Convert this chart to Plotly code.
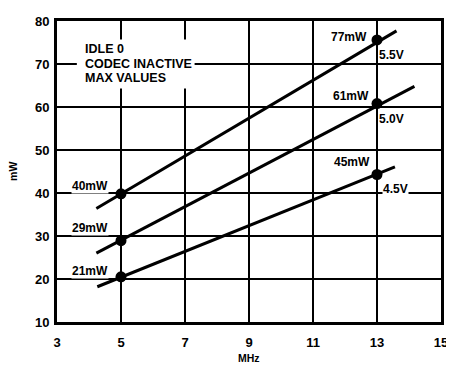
import plotly.graph_objects as go

# ---- data ----
voltages = ["5.5V", "5.0V", "4.5V"]
line_x_start = [4.23, 4.23, 4.26]
line_y_start = [36.4, 26.0, 18.2]
line_x_end = [13.61, 14.17, 13.56]
line_y_end = [77.7, 64.8, 46.1]

dot_x_low = 5
dot_x_high = 13
dot_y_low = [39.8, 28.9, 20.5]
dot_y_high = [75.6, 60.8, 44.3]
label_low = ["40mW", "29mW", "21mW"]
label_high = ["77mW", "61mW", "45mW"]

x_ticks = [3, 5, 7, 9, 11, 13, 15]
y_ticks = [10, 20, 30, 40, 50, 60, 70, 80]
note_lines = ["IDLE 0", "CODEC INACTIVE", "MAX VALUES"]

FONT = "Liberation Sans, Arial, sans-serif"

fig = go.Figure()
for i, v in enumerate(voltages):
    fig.add_trace(go.Scatter(
        x=[line_x_start[i], line_x_end[i]],
        y=[line_y_start[i], line_y_end[i]],
        mode="lines", line=dict(color="black", width=3),
        showlegend=False, hoverinfo="skip"))
    fig.add_trace(go.Scatter(
        x=[dot_x_low, dot_x_high],
        y=[dot_y_low[i], dot_y_high[i]],
        mode="markers", marker=dict(color="black", size=11),
        showlegend=False))

ann = []
lbl_font = dict(family=FONT, size=12, color="black", weight="bold")
low_shift = [7.4, 12.3, 6.0]
high_shift = [3.0, 7.6, 12.7]
high_xshift = [-9, -7, -5.6]
volt_shift = [-15, -15, -14]
volt_xshift = [1, 1, 5]
for i in range(3):
    ann.append(dict(x=dot_x_low, y=dot_y_low[i], xref="x", yref="y",
                    text=label_low[i], showarrow=False, xanchor="right",
                    yanchor="middle", xshift=-12, yshift=low_shift[i],
                    font=lbl_font, bgcolor="white", borderpad=0))
    ann.append(dict(x=dot_x_high, y=dot_y_high[i], xref="x", yref="y",
                    text=label_high[i], showarrow=False, xanchor="right",
                    yanchor="middle", xshift=high_xshift[i], yshift=high_shift[i],
                    font=lbl_font, bgcolor="white", borderpad=0))
    ann.append(dict(x=dot_x_high, y=dot_y_high[i], xref="x", yref="y",
                    text=voltages[i], showarrow=False, xanchor="left",
                    yanchor="middle", xshift=volt_xshift[i], yshift=volt_shift[i],
                    font=lbl_font, bgcolor="white", borderpad=0))

# note block: white box hiding the grid, three text lines
note_font = dict(family=FONT, size=12.5, color="black", weight="bold")
note_y = [73.5, 70.0, 66.7]
for j, t in enumerate(note_lines):
    ann.append(dict(x=3.8, y=note_y[j], xref="x", yref="y", text=t,
                    showarrow=False, xanchor="left", yanchor="middle",
                    font=note_font))
fig.add_shape(type="rect", x0=3.62, x1=7.3, y0=64.3, y1=75.7,
              xref="x", yref="y", fillcolor="white", line=dict(width=0),
              layer="between")

ann.append(dict(x=0.5, y=-0.12, xref="paper", yref="paper", text="MHz",
                showarrow=False, xanchor="center", yanchor="middle",
                font=dict(family=FONT, size=10.5, color="black", weight="bold")))
ann.append(dict(x=-0.116, y=0.5, xref="paper", yref="paper", text="mW",
                showarrow=False, xanchor="center", yanchor="middle", textangle=-90,
                font=dict(family=FONT, size=10.5, color="black", weight="bold")))

tick_font = dict(family=FONT, size=13, color="black", weight="bold")
# the page body has an 8px default margin, so the figure is sized/offset to fit
fig.update_layout(
    width=446, height=357,
    margin=dict(l=49, r=8, t=6, b=43),
    paper_bgcolor="white", plot_bgcolor="white",
    annotations=ann,
    xaxis=dict(range=[3, 15], tickvals=x_ticks, showgrid=True,
               gridcolor="black", gridwidth=1.5, showline=True, linecolor="black",
               linewidth=3, mirror=True, ticks="", tickfont=tick_font,
               ticklabelstandoff=6, ticklabeloverflow="allow", zeroline=False),
    yaxis=dict(range=[10, 80], tickvals=y_ticks, showgrid=True,
               gridcolor="black", gridwidth=1.5, showline=True, linecolor="black",
               linewidth=3, mirror=True, ticks="", tickfont=tick_font,
               ticklabelstandoff=2, ticklabeloverflow="allow", zeroline=False),
)
fig.write_html("out.html")
